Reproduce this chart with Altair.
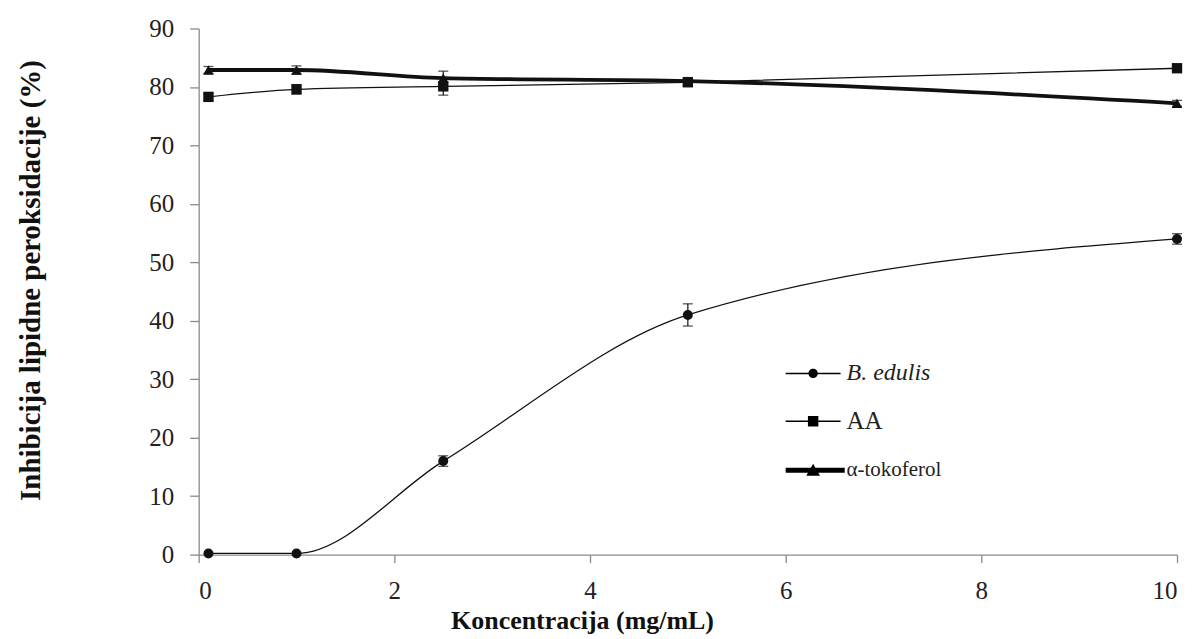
import altair as alt
import pandas as pd

# ---- data ----
conc = [0.1, 1, 2.5, 5, 10]
series_names = ["B. edulis", "AA", "α-tokoferol"]
b_edulis = [0.2, 0.2, 16.0, 41.0, 54.0]
b_edulis_err = [0.0, 0.0, 0.9, 1.9, 0.9]
aa = [78.3, 79.6, 80.1, 80.8, 83.2]
aa_err = [0.6, 0.8, 1.5, 0.6, 0.4]
toko = [82.9, 82.9, 81.5, 81.0, 77.2]
toko_err = [0.6, 0.7, 1.2, 0.6, 0.5]

x_ticks = [0, 2, 4, 6, 8, 10]
y_ticks = [0, 10, 20, 30, 40, 50, 60, 70, 80, 90]

rows = []
for name, vals, errs in zip(series_names, [b_edulis, aa, toko], [b_edulis_err, aa_err, toko_err]):
    for x, v, e in zip(conc, vals, errs):
        rows.append({"series": name, "x": x, "y": v, "lo": v - e, "hi": v + e, "err": e})
df = pd.DataFrame(rows)

FONT = "Liberation Serif"
INK = "#111111"

xenc = alt.X("x:Q", scale=alt.Scale(domain=[0, 10], nice=False),
             axis=alt.Axis(values=x_ticks, format="d", title="Koncentracija (mg/mL)",
                           tickSize=8, titleFontSize=26,
                           titleX=384, titleY=74, titleBaseline="alphabetic",
                           titleAlign="center"))
yenc = alt.Y("y:Q", scale=alt.Scale(domain=[0, 90], nice=False),
             axis=alt.Axis(values=y_ticks, title="Inhibicija lipidne peroksidacije (%)",
                           tickSize=9, titleFontSize=29,
                           titleX=-168, titleY=252, titleAngle=-90,
                           titleBaseline="middle", titleAlign="center"))

base = alt.Chart(df)

# lines
line_b = base.transform_filter(alt.datum.series == "B. edulis").mark_line(
    color=INK, strokeWidth=1.3, interpolate="monotone").encode(x=xenc, y=yenc)
line_aa = base.transform_filter(alt.datum.series == "AA").mark_line(
    color=INK, strokeWidth=1.3, interpolate="monotone").encode(x="x:Q", y="y:Q")
line_t = base.transform_filter(alt.datum.series == "α-tokoferol").mark_line(
    color=INK, strokeWidth=3.8, interpolate="monotone").encode(x="x:Q", y="y:Q")

# error bars
eb = base.transform_filter(alt.datum.err > 0)
err_rule = eb.mark_rule(color=INK, strokeWidth=1.2).encode(x="x:Q", y="lo:Q", y2="hi:Q")
err_lo = eb.mark_tick(color=INK, orient="horizontal", size=10, thickness=1.3).encode(x="x:Q", y="lo:Q")
err_hi = eb.mark_tick(color=INK, orient="horizontal", size=10, thickness=1.3).encode(x="x:Q", y="hi:Q")

# markers
markers = base.mark_point(filled=True, color=INK, opacity=1, strokeWidth=0).encode(
    x="x:Q", y="y:Q",
    shape=alt.Shape("series:N", scale=alt.Scale(domain=series_names,
                                                range=["circle", "square", "triangle-up"]),
                    legend=None),
    size=alt.Size("series:N", scale=alt.Scale(domain=series_names, range=[100, 115, 175]),
                  legend=None),
)

# legend carrier (invisible marks, legend drawn with custom symbol paths)
legend_paths = [
    "M-1,-0.027H1V0.027H-1Z M0.17,0A0.17,0.17,0,1,1,-0.17,0A0.17,0.17,0,1,1,0.17,0Z",
    "M-1,-0.027H1V0.027H-1Z M-0.19,-0.19H0.19V0.19H-0.19Z",
    "M-1,-0.09H1.15V0.09H-1Z M0,-0.24L0.25,0.2H-0.25Z",
]
legend_layer = base.mark_point(filled=True, color="black", opacity=0, strokeWidth=0).encode(
    x="x:Q", y="y:Q",
    shape=alt.Shape("series:N",
                    scale=alt.Scale(domain=series_names, range=legend_paths),
                    legend=alt.Legend(
                        title=None, orient="none", legendX=588, legendY=318,
                        symbolSize=3025, symbolOpacity=1, symbolFillColor="black",
                        symbolStrokeWidth=0, labelFont=FONT,
                        labelFontSize={"expr": "datum.label === 'α-tokoferol' ? 21 : (datum.label === 'AA' ? 25 : 24)"},
                        labelFontStyle={"expr": "datum.label === 'B. edulis' ? 'italic' : 'normal'"},
                        labelColor="#222222", labelOffset=6, rowPadding=8, padding=0,
                        labelLimit=0)),
)

chart = alt.layer(
    line_b, line_aa, line_t, err_rule, err_lo, err_hi, markers, legend_layer
).resolve_scale(shape="independent", size="independent").properties(
    width=980, height=527,
    padding={"left": 191, "top": 20, "right": 10, "bottom": 80},
    autosize=alt.AutoSizeParams(type="none"),
    background="white",
).configure_view(stroke=None).configure_axis(
    grid=False, domainColor="#8a8a8a", tickColor="#8a8a8a",
    domainWidth=1.3, tickWidth=1.3,
    labelFont=FONT, labelFontSize=25, labelColor="#222222", labelPadding=16,
    titleFont=FONT, titleFontWeight="bold", titleColor="#111111",
)

chart.save("out.html", embed_options={"renderer": "svg", "actions": False})
